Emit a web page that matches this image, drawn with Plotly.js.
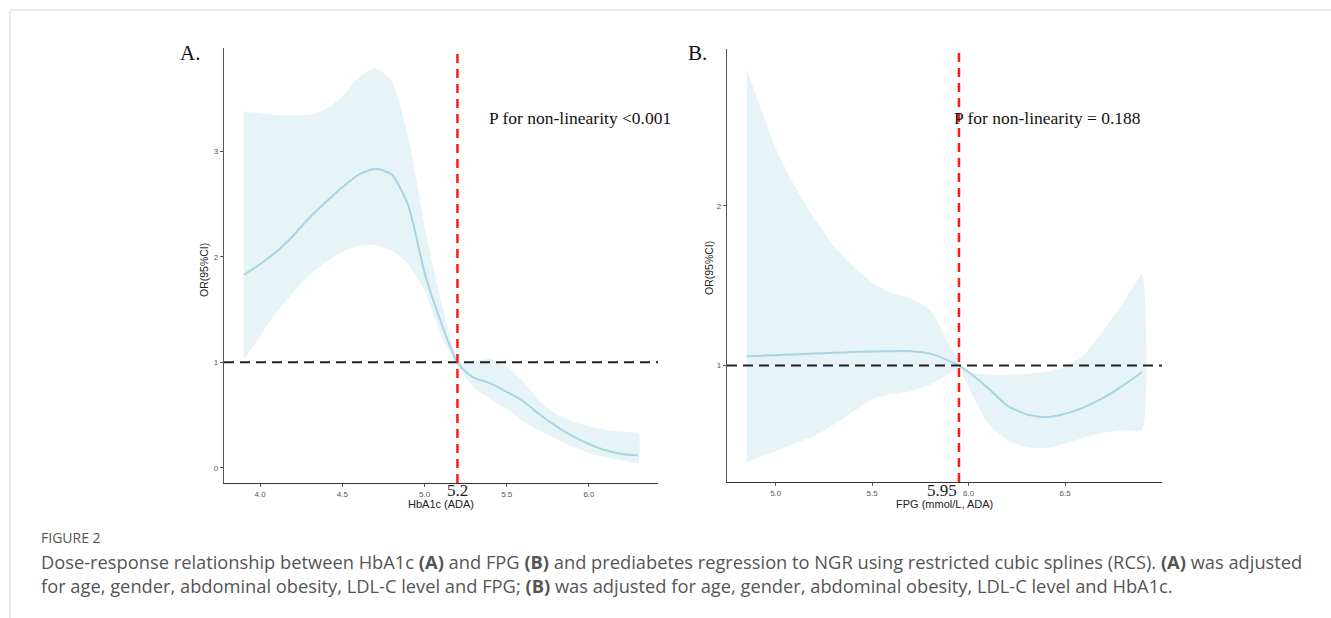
<!DOCTYPE html>
<html>
<head>
<meta charset="utf-8">
<script src="https://cdn.plot.ly/plotly-3.0.1.min.js"></script>
<style>
html,body{margin:0;padding:0;background:#fff;}
#chart{width:1331px;height:618px;}
</style>
</head>
<body>
<div id="chart"></div>
<script>
// ---------- Panel A: HbA1c ----------
var hbaX     = [3.9, 4.0, 4.1, 4.2, 4.3, 4.4, 4.5, 4.6, 4.7, 4.8, 4.9, 5.0, 5.05, 5.1, 5.15, 5.2, 5.25, 5.3, 5.4, 5.5, 5.6, 5.7, 5.8, 5.9, 6.0, 6.1, 6.2, 6.3];
var hbaOR    = [1.83, 1.93, 2.05, 2.2, 2.37, 2.52, 2.66, 2.78, 2.835, 2.78, 2.49, 1.85, 1.6, 1.38, 1.17, 1.0, 0.91, 0.855, 0.80, 0.72, 0.63, 0.505, 0.395, 0.30, 0.225, 0.165, 0.13, 0.115];
var hbaUpper = [3.38, 3.36, 3.345, 3.34, 3.35, 3.40, 3.52, 3.70, 3.79, 3.67, 3.15, 2.29, 1.92, 1.58, 1.28, 1.02, 1.0, 1.01, 1.03, 0.96, 0.82, 0.63, 0.51, 0.44, 0.39, 0.36, 0.34, 0.32];
var hbaLower = [1.02, 1.25, 1.48, 1.66, 1.83, 1.95, 2.05, 2.10, 2.11, 2.06, 1.93, 1.68, 1.47, 1.26, 1.1, 0.98, 0.86, 0.76, 0.65, 0.56, 0.44, 0.35, 0.27, 0.20, 0.14, 0.10, 0.07, 0.045];
var hbaTicks = [4.0, 4.5, 5.0, 5.5, 6.0];
var hbaTickText = ["4.0", "4.5", "5.0", "5.5", "6.0"];
var hbaYTicks = [0, 1, 2, 3];
var hbaCut = 5.2;

// ---------- Panel B: FPG ----------
var fpgX     = [4.85, 4.9, 5.0, 5.1, 5.2, 5.3, 5.4, 5.5, 5.6, 5.7, 5.8, 5.9, 5.95, 6.0, 6.1, 6.2, 6.3, 6.4, 6.5, 6.6, 6.7, 6.8, 6.9];
var fpgOR    = [1.058, 1.06, 1.065, 1.07, 1.075, 1.08, 1.085, 1.088, 1.09, 1.09, 1.075, 1.03, 1.0, 0.96, 0.86, 0.75, 0.695, 0.678, 0.698, 0.74, 0.80, 0.875, 0.96];
var fpgUpper = [2.858, 2.68, 2.36, 2.12, 1.92, 1.75, 1.62, 1.52, 1.455, 1.42, 1.35, 1.13, 1.03, 0.96, 0.945, 0.943, 0.948, 0.96, 0.993, 1.07, 1.22, 1.39, 1.57];
var fpgLower = [0.395, 0.42, 0.465, 0.515, 0.56, 0.63, 0.71, 0.79, 0.822, 0.84, 0.88, 0.95, 0.99, 0.86, 0.64, 0.535, 0.49, 0.485, 0.513, 0.55, 0.58, 0.596, 0.598];
var fpgTicks = [5.0, 5.5, 6.0, 6.5];
var fpgTickText = ["5.0", "5.5", "6.0", "6.5"];
var fpgYTicks = [1, 2];
var fpgCut = 5.95;

var W = 1331, H = 618;
function px(v){ return v / W; }
function py(v){ return 1 - v / H; }

function ribbon(x, up, lo, xa, ya){
  return {
    x: x.concat(x.slice().reverse()),
    y: up.concat(lo.slice().reverse()),
    xaxis: xa, yaxis: ya,
    type: 'scatter', mode: 'lines', fill: 'toself',
    fillcolor: 'rgba(173,216,230,0.3)',
    line: {width: 0, color: 'rgba(0,0,0,0)', shape: 'spline', smoothing: 0.5},
    hoverinfo: 'skip', showlegend: false
  };
}
function curve(x, y, xa, ya){
  return {
    x: x, y: y, xaxis: xa, yaxis: ya,
    type: 'scatter', mode: 'lines',
    line: {color: '#a9d5e2', width: 2, shape: 'spline', smoothing: 0.6},
    showlegend: false
  };
}

var data = [
  ribbon(hbaX, hbaUpper, hbaLower, 'x', 'y'),
  curve(hbaX, hbaOR, 'x', 'y'),
  ribbon(fpgX, fpgUpper, fpgLower, 'x2', 'y2'),
  curve(fpgX, fpgOR, 'x2', 'y2')
];

var tickFont = {family: 'Liberation Sans, Arial, sans-serif', size: 8, color: '#555'};
function xAxis(domain, range, tv, tt, anchor){
  return {
    domain: domain, range: range, anchor: anchor,
    tickvals: tv, ticktext: tt, ticks: 'outside', ticklen: 3, tickwidth: 1, tickcolor: '#555',
    tickfont: tickFont, showline: true, linecolor: '#333', linewidth: 1.2,
    showgrid: false, zeroline: false, fixedrange: true
  };
}
function yAxis(domain, range, tv, anchor){
  return {
    domain: domain, range: range, anchor: anchor,
    tickvals: tv, ticktext: tv.map(String), ticks: 'outside', ticklen: 3, tickwidth: 1, tickcolor: '#555',
    tickfont: tickFont, showline: true, linecolor: '#555', linewidth: 1.2,
    showgrid: false, zeroline: false, fixedrange: true
  };
}

var serif = 'Liberation Serif, Times New Roman, serif';
var sans = 'Liberation Sans, Arial, sans-serif';
var capFont = 'Open Sans, Noto Sans, sans-serif';

var layout = {
  width: W, height: H,
  margin: {l: 0, r: 0, t: 0, b: 0},
  paper_bgcolor: '#fff', plot_bgcolor: 'rgba(0,0,0,0)',
  showlegend: false,
  xaxis: xAxis([px(224), px(658)], [3.78, 6.42], hbaTicks, hbaTickText, 'y'),
  yaxis: yAxis([1 - 483/H, 1 - 48/H], [-0.145, 3.98], hbaYTicks, 'x'),
  xaxis2: xAxis([px(727), px(1162)], [4.7475, 7.0025], fpgTicks, fpgTickText, 'y2'),
  yaxis2: yAxis([1 - 482/H, 1 - 49/H], [0.272, 2.98], fpgYTicks, 'x2'),
  shapes: [
    {type: 'line', xref: 'paper', yref: 'paper', x0: px(10), x1: 1, y0: py(10), y1: py(10), line: {color: '#d6d6d6', width: 1}},
    {type: 'line', xref: 'paper', yref: 'paper', x0: px(10), x1: px(10), y0: py(10), y1: 0, line: {color: '#d6d6d6', width: 1}},
    {type: 'line', xref: 'x domain', yref: 'y', x0: 0, x1: 1, y0: 1, y1: 1, line: {color: '#222', width: 2, dash: '10px,6px'}},
    {type: 'line', xref: 'x', yref: 'y domain', x0: hbaCut, x1: hbaCut, y0: 0, y1: 1, line: {color: '#ff1a1a', width: 2.5, dash: '9px,6px'}},
    {type: 'line', xref: 'x2 domain', yref: 'y2', x0: 0, x1: 1, y0: 1, y1: 1, line: {color: '#222', width: 2, dash: '10px,6px'}},
    {type: 'line', xref: 'x2', yref: 'y2 domain', x0: fpgCut, x1: fpgCut, y0: 0, y1: 1, line: {color: '#ff1a1a', width: 2.5, dash: '9px,6px'}}
  ],
  annotations: [
    {text: 'A.', xref: 'paper', yref: 'paper', x: px(190), y: py(53), xanchor: 'center', yanchor: 'middle', showarrow: false, font: {family: serif, size: 21, color: '#111'}},
    {text: 'B.', xref: 'paper', yref: 'paper', x: px(697), y: py(53), xanchor: 'center', yanchor: 'middle', showarrow: false, font: {family: serif, size: 21, color: '#111'}},
    {text: 'P for non-linearity <0.001', xref: 'paper', yref: 'paper', x: px(487), y: py(118), xanchor: 'left', yanchor: 'middle', showarrow: false, font: {family: serif, size: 17.5, color: '#111'}},
    {text: 'P for non-linearity = 0.188', xref: 'paper', yref: 'paper', x: px(952), y: py(118), xanchor: 'left', yanchor: 'middle', showarrow: false, font: {family: serif, size: 17.5, color: '#111'}},
    {text: 'HbA1c (ADA)', xref: 'paper', yref: 'paper', x: px(441), y: py(504), xanchor: 'center', yanchor: 'middle', showarrow: false, font: {family: sans, size: 11, color: '#222'}},
    {text: 'FPG (mmol/L, ADA)', xref: 'paper', yref: 'paper', x: px(944), y: py(504), xanchor: 'center', yanchor: 'middle', showarrow: false, font: {family: sans, size: 11, color: '#222'}},
    {text: String(hbaCut), xref: 'x', yref: 'paper', x: hbaCut, y: py(490), xanchor: 'center', yanchor: 'middle', showarrow: false, font: {family: serif, size: 17, color: '#222'}},
    {text: String(fpgCut), xref: 'x2', yref: 'paper', x: fpgCut, y: py(490), xanchor: 'right', yanchor: 'middle', showarrow: false, font: {family: serif, size: 17, color: '#222'}},
    {text: 'OR(95%CI)', xref: 'paper', yref: 'paper', x: px(204), y: py(270), textangle: -90, xanchor: 'center', yanchor: 'middle', showarrow: false, font: {family: sans, size: 10.5, color: '#222'}},
    {text: 'OR(95%CI)', xref: 'paper', yref: 'paper', x: px(709), y: py(268), textangle: -90, xanchor: 'center', yanchor: 'middle', showarrow: false, font: {family: sans, size: 10.5, color: '#222'}},
    {text: 'FIGURE 2', xref: 'paper', yref: 'paper', x: px(39), y: py(537), xanchor: 'left', yanchor: 'middle', showarrow: false, font: {family: capFont, size: 14, color: '#555'}},
    {text: 'Dose-response relationship between HbA1c <b>(A)</b> and FPG <b>(B)</b> and prediabetes regression to NGR using restricted cubic splines (RCS). <b>(A)</b> was adjusted', xref: 'paper', yref: 'paper', x: px(39), y: py(561), xanchor: 'left', yanchor: 'middle', showarrow: false, font: {family: capFont, size: 18.3, color: '#555'}},
    {text: 'for age, gender, abdominal obesity, LDL-C level and FPG; <b>(B)</b> was adjusted for age, gender, abdominal obesity, LDL-C level and HbA1c.', xref: 'paper', yref: 'paper', x: px(39), y: py(585), xanchor: 'left', yanchor: 'middle', showarrow: false, font: {family: capFont, size: 18.3, color: '#555'}}
  ]
};

Plotly.newPlot('chart', data, layout, {staticPlot: true, displayModeBar: false});
</script>
</body>
</html>
